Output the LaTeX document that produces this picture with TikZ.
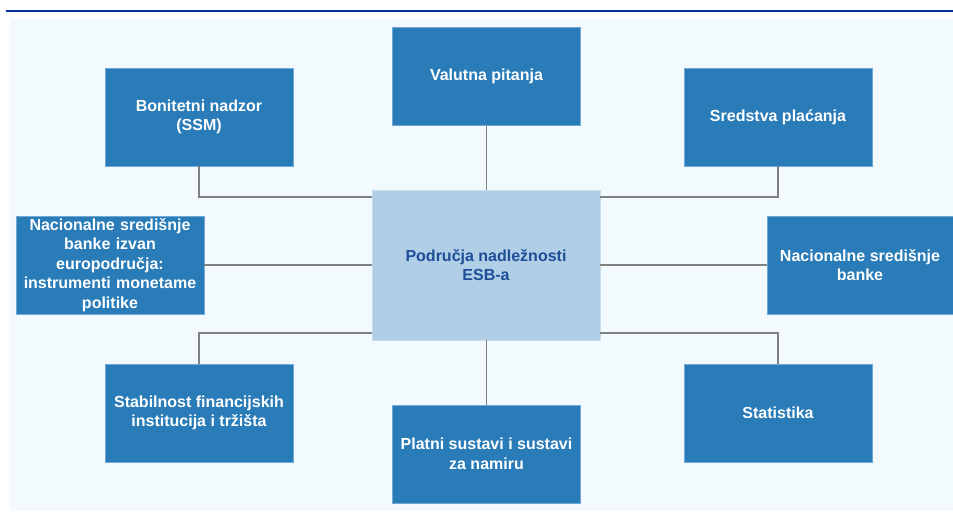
\documentclass[tikz,border=0pt]{standalone}
\usepackage{fontspec}
\setmainfont{Liberation Sans}
\definecolor{boxblue}{HTML}{2A7CB8}
\definecolor{boxedge}{HTML}{6FA9D6}
\definecolor{ctrfill}{HTML}{B0CEE5}
\definecolor{ctredge}{HTML}{C6DDEF}
\definecolor{ctrtext}{HTML}{1F4E99}
\definecolor{panel}{HTML}{F3FAFE}
\definecolor{topline}{HTML}{003399}
\definecolor{conn}{HTML}{808080}
\begin{document}
\begin{tikzpicture}[x=0.75pt,y=-0.75pt,
  box/.style={fill=boxblue, draw=boxedge, line width=0.6pt, minimum width=141pt, minimum height=73.5pt,
    inner sep=0pt, text=white, align=center, font=\fontsize{12pt}{14.6pt}\selectfont\bfseries},
  ctrbox/.style={fill=ctrfill, draw=ctredge, line width=0.6pt, minimum width=171pt, minimum height=112.5pt,
    inner sep=0pt, text=ctrtext, align=center, font=\fontsize{12pt}{14.8pt}\selectfont\bfseries},
  link/.style={draw=conn, line width=1.4pt}]
\useasboundingbox (0,0) rectangle (953,519);
\fill[panel] (10,19) rectangle (953,511);
\draw[topline, line width=1.6pt] (6,11) -- (953,11);

\node[ctrbox] (ctr) at (486,265) {Područja nadležnosti\\ESB-a};
\node[box] (bon) at (199,117) {Bonitetni nadzor\\(SSM)};
\node[box] (val) at (486.5,76) {Valutna pitanja};
\node[box] (sred) at (778,117) {Sredstva plaćanja};
\node[box, text width=141pt] (nsbl) at (110,265) {Nacionalne središnje\\banke izvan\\europodručja:\\instrumenti monetame\\politike};
\node[box, minimum width=139.5pt] (nsbr) at (860,265) {Nacionalne središnje\\banke};
\node[box] (stab) at (199,413) {Stabilnost financijskih\\institucija i tržišta};
\node[box] (plat) at (486.5,454) {Platni sustavi i sustavi\\za namiru};
\node[box] (stat) at (778,413) {Statistika};

\begin{scope}[on background layer/.try]
\end{scope}
\draw[link] (bon.south) |- ([yshift=-5.25pt]ctr.north west);
\draw[link] (sred.south) |- ([yshift=-5.25pt]ctr.north east);
\draw[link] (val.south) -- (val.south |- ctr.north);
\draw[link] (nsbl.east) -- (ctr.west);
\draw[link] (nsbr.west) -- (ctr.east);
\draw[link] (stab.north) |- ([yshift=5.25pt]ctr.south west);
\draw[link] (stat.north) |- ([yshift=5.25pt]ctr.south east);
\draw[link] (plat.north) -- (plat.north |- ctr.south);
\end{tikzpicture}
\end{document}
